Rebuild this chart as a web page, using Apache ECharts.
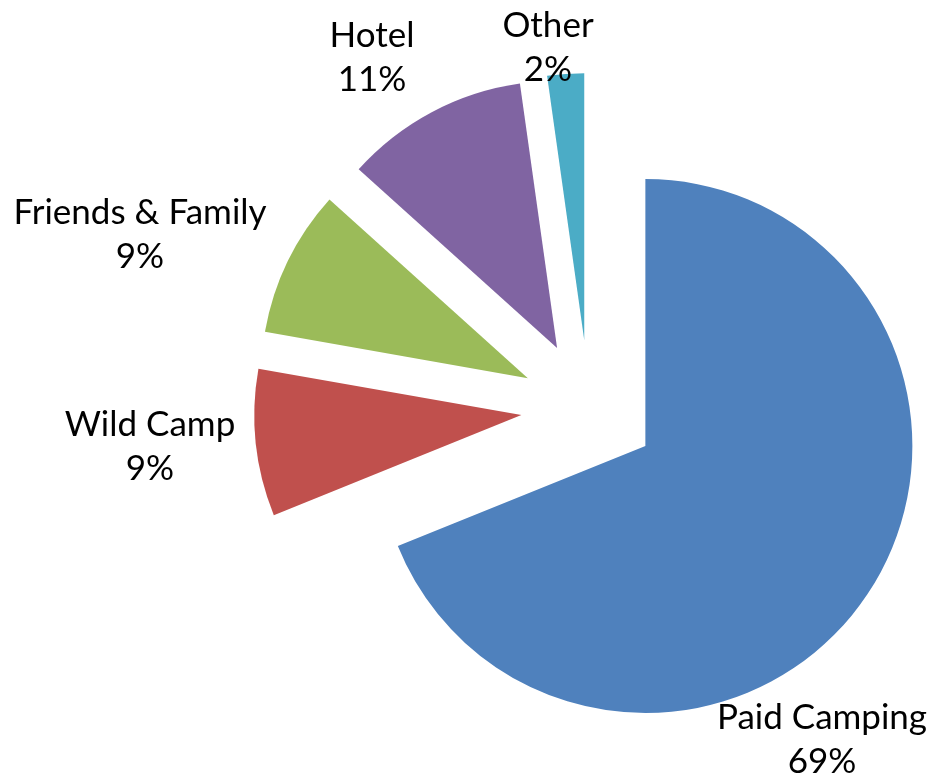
<!DOCTYPE html>
<html>
<head>
<meta charset="utf-8">
<script src="https://cdn.jsdelivr.net/npm/echarts@6/dist/echarts.min.js"></script>
<style>
    html, body { margin: 0; padding: 0; background: #fff; }
    #chart { width: 929px; height: 779px; }
</style>
</head>
<body>
<div id="chart"></div>
<script>
    // data (slice angles fit counts out of 45)
    var categories = ['Paid Camping', 'Wild Camp', 'Friends & Family', 'Hotel', 'Other'];
    var counts = [31, 4, 4, 5, 1];
    var colors = ['#4F81BD', '#C0504D', '#9BBB59', '#8064A2', '#4BACC6'];

    // where each label block sits (centre of the two lines)
    var labelPos = [[822, 740], [150, 447], [140, 235], [372, 58], [548, 48]];

    var total = counts.reduce(function (a, b) { return a + b; }, 0);

    var chart = echarts.init(document.getElementById('chart'));

    var option = {
        animation: false,
        graphic: categories.map(function (name, i) {
            return {
                type: 'text',
                z: 100,
                style: {
                    text: name + '\n' + Math.round(counts[i] / total * 100) + '%',
                    x: labelPos[i][0],
                    y: labelPos[i][1],
                    textAlign: 'center',
                    textVerticalAlign: 'middle',
                    font: '35px Lato',
                    lineHeight: 44,
                    fill: '#000'
                }
            };
        }),
        series: [{
            type: 'pie',
            center: [589, 408],
            radius: [0, 267],
            startAngle: 90,
            clockwise: true,
            selectedMode: 'multiple',
            selectedOffset: 68,
            label: { show: false },
            labelLine: { show: false },
            emphasis: { disabled: true },
            data: categories.map(function (name, i) {
                return {
                    name: name,
                    value: counts[i],
                    selected: true,
                    itemStyle: { color: colors[i] }
                };
            })
        }]
    };

    chart.setOption(option);
</script>
</body>
</html>
